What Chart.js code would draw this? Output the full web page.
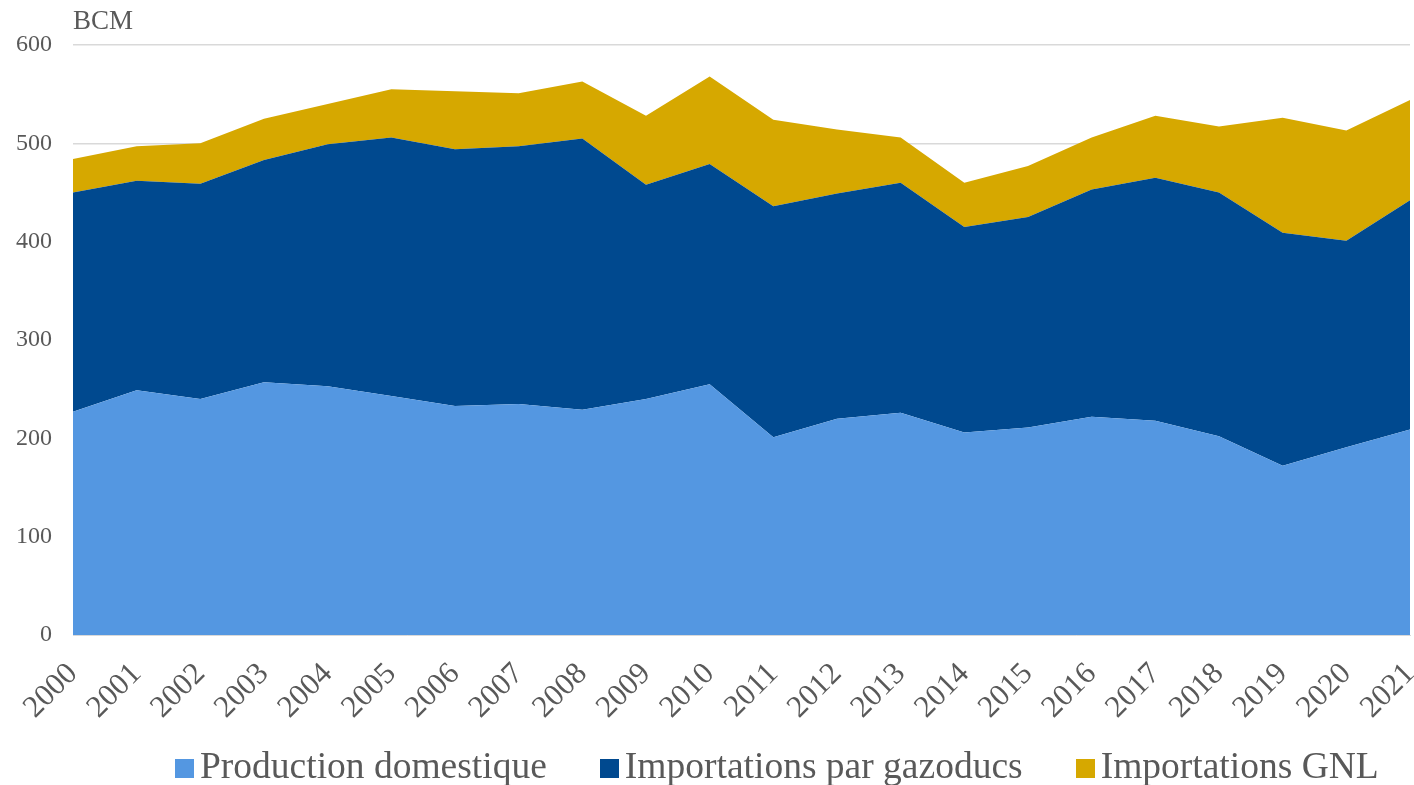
<!DOCTYPE html>
<html>
<head>
<meta charset="utf-8">
<script src="https://cdn.jsdelivr.net/npm/chart.js@4"></script>
<style>
  html, body { margin: 0; padding: 0; background: #ffffff; }
  #wrap { position: relative; width: 1414px; height: 785px; }
  #legend { position: absolute; left: 175px; top: 744px; display: flex; align-items: center;
            font-family: "Liberation Serif", "Times New Roman", serif; font-size: 37.5px; color: #595959; white-space: nowrap; }
  .item { display: flex; align-items: center; margin-right: 53px; }
  .box { width: 19px; height: 19px; margin-right: 6px; margin-top: 6px; }
</style>
</head>
<body>
<div id="wrap">
  <canvas id="c" width="1414" height="785"></canvas>
  <div id="legend"></div>
</div>
<script>
const years = ["2000","2001","2002","2003","2004","2005","2006","2007","2008","2009","2010",
               "2011","2012","2013","2014","2015","2016","2017","2018","2019","2020","2021"];
const productionDomestique = [227, 249, 240, 257, 253, 243, 233, 235, 229, 240, 255, 201, 220, 226, 206, 211, 222, 218, 202, 172, 191, 209];
const importationsGazoducs = [223, 213, 219, 226, 246, 263, 261, 262, 276, 218, 224, 235, 229, 234, 209, 214, 231, 247, 248, 237, 210, 233];
const importationsGNL      = [34, 35, 41, 42, 41, 49, 59, 54, 58, 70, 89, 88, 65, 46, 45, 52, 53, 63, 67, 117, 112, 102];
const yTicks = [0, 100, 200, 300, 400, 500, 600];
const unitLabel = "BCM";
const seriesNames = ["Production domestique", "Importations par gazoducs", "Importations GNL"];
const seriesColors = ["#5497E1", "#00498F", "#D6A800"];

const textColor = "#595959";
const serif = "'Liberation Serif', 'Times New Roman', serif";

const unitPlugin = {
  id: 'unitLabel',
  afterDraw(chart) {
    const ctx = chart.ctx;
    ctx.save();
    ctx.font = "27px " + serif;
    ctx.fillStyle = textColor;
    ctx.textAlign = "left";
    ctx.textBaseline = "alphabetic";
    ctx.fillText(unitLabel, chart.chartArea.left, 29);
    ctx.restore();
  }
};

const datasets = [productionDomestique, importationsGazoducs, importationsGNL].map((d, i) => ({
  label: seriesNames[i],
  data: d,
  backgroundColor: seriesColors[i],
  borderColor: seriesColors[i],
  borderWidth: 0,
  pointRadius: 0,
  pointHoverRadius: 0,
  tension: 0,
  fill: i === 0 ? 'origin' : '-1'
}));

new Chart(document.getElementById('c'), {
  type: 'line',
  data: { labels: years, datasets },
  plugins: [unitPlugin],
  options: {
    responsive: false,
    animation: false,
    events: [],
    layout: { autoPadding: false, padding: { top: 45, right: 4, left: 0, bottom: 0 } },
    plugins: { legend: { display: false }, tooltip: { enabled: false }, title: { display: false } },
    scales: {
      x: {
        offset: false,
        grid: { display: false, drawTicks: false },
        border: { display: true, color: "#d9d9d9", width: 1 },
        ticks: { autoSkip: false, maxRotation: 45, minRotation: 45, padding: 21,
                 color: textColor, font: { family: serif, size: 31 } },
        afterFit(scale) { scale.height = 150; scale.paddingLeft = 0; scale.paddingRight = 0; }
      },
      y: {
        stacked: true,
        min: 0, max: 600,
        afterBuildTicks(scale) { scale.ticks = yTicks.map(v => ({ value: v })); },
        grid: { color: "#d9d9d9", lineWidth: 1.5, drawTicks: false },
        border: { display: false },
        ticks: { padding: 21, color: textColor, font: { family: serif, size: 24 } },
        afterFit(scale) { scale.width = 73; scale.paddingTop = 0; scale.paddingBottom = 0; }
      }
    }
  }
});

const legend = document.getElementById('legend');
seriesNames.forEach((n, i) => {
  const item = document.createElement('div');
  item.className = 'item';
  const box = document.createElement('span');
  box.className = 'box';
  box.style.background = seriesColors[i];
  const t = document.createElement('span');
  t.textContent = n;
  item.appendChild(box);
  item.appendChild(t);
  legend.appendChild(item);
});
</script>
</body>
</html>
